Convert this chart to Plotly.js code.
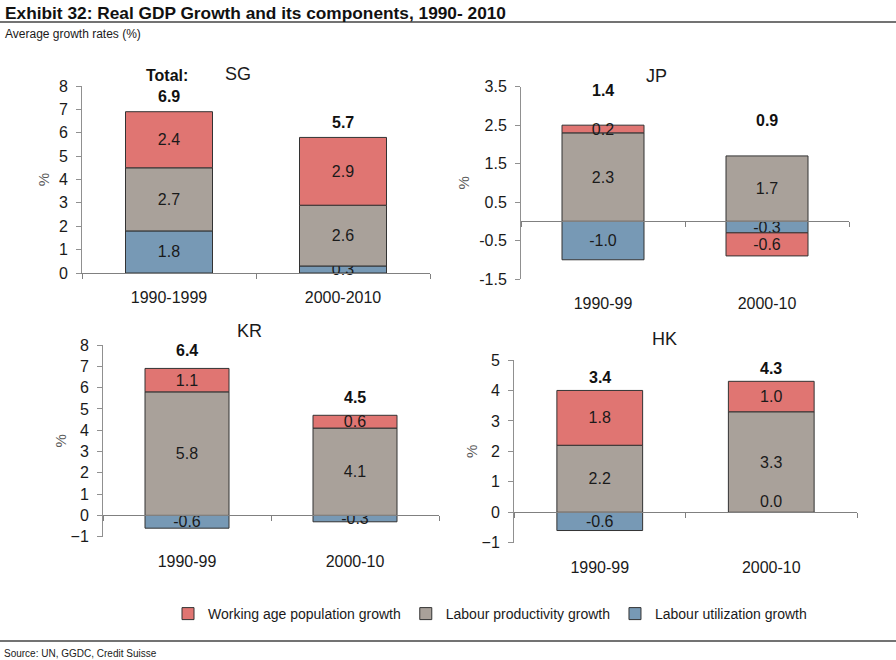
<!DOCTYPE html>
<html><head><meta charset="utf-8">
<script src="https://cdn.plot.ly/plotly-3.0.1.min.js"></script>
<style>body{margin:0;background:#fff}#chart{width:896px;height:660px}</style>
</head><body><div id="chart"></div>
<script>
// ---- data ----
const seriesNames = ['Labour utilization growth', 'Labour productivity growth', 'Working age population growth'];
const panelNames = ['SG', 'JP', 'KR', 'HK'];
const catsSG = ['1990-1999', '2000-2010'];
const catsOther = ['1990-99', '2000-10'];

const utilSG = [1.8, 0.3];
const prodSG = [2.7, 2.6];
const popSG = [2.4, 2.9];
const totalSG = [6.9, 5.7];

const utilJP = [-1.0, -0.3];
const prodJP = [2.3, 1.7];
const popJP = [0.2, -0.6];
const totalJP = [1.4, 0.9];

const utilKR = [-0.6, -0.3];
const prodKR = [5.8, 4.1];
const popKR = [1.1, 0.6];
const totalKR = [6.4, 4.5];

const utilHK = [-0.6, 0.0];
const prodHK = [2.2, 3.3];
const popHK = [1.8, 1.0];
const totalHK = [3.4, 4.3];

// ---- styling ----
const colors = ['#7799B5', '#A9A19A', '#E07572'];
const ranks = [3, 2, 1];
const W = 896, H = 660;
const FONT = 'Liberation Sans, Arial, sans-serif';

const panels = [
  {name: 'SG', cats: catsSG, series: [utilSG, prodSG, popSG], totals: totalSG,
   xa: 'x', ya: 'y', px: [82, 430], py: [86, 273], range: [0, 8], totShift: 15,
   title: [238, 74], standoff: 5},
  {name: 'JP', cats: catsOther, series: [utilJP, prodJP, popJP], totals: totalJP,
   xa: 'x2', ya: 'y2', px: [521, 849], py: [86.7, 279], range: [-1.5, 3.5], totShift: 35,
   title: [656, 76], tickvals: [-1.5, -0.5, 0.5, 1.5, 2.5, 3.5], standoff: 5},
  {name: 'KR', cats: catsOther, series: [utilKR, prodKR, popKR], totals: totalKR,
   xa: 'x3', ya: 'y3', px: [103, 439], py: [345, 536.7], range: [-1, 8], totShift: 18,
   title: [249, 331], standoff: 0},
  {name: 'HK', cats: catsOther, series: [utilHK, prodHK, popHK], totals: totalHK,
   xa: 'x4', ya: 'y4', px: [514, 857], py: [360, 542.7], range: [-1, 5], totShift: 13,
   title: [664, 339], standoff: 0}
];

const traces = [];
const layout = {
  width: W, height: H,
  margin: {l: 0, r: 0, t: 0, b: 0},
  paper_bgcolor: '#fff', plot_bgcolor: 'rgba(0,0,0,0)',
  font: {family: FONT, color: '#1a1a1a'},
  barmode: 'relative',
  bargap: 0.5,
  showlegend: true,
  legend: {orientation: 'h', x: 168 / W, xanchor: 'left', y: (H - 614) / H, yanchor: 'middle',
           font: {size: 14, family: FONT, color: '#1a1a1a'},
           itemwidth: 30, tracegroupgap: 0, bgcolor: 'rgba(0,0,0,0)'},
  annotations: [],
  shapes: []
};

panels.forEach((p, i) => {
  const n = i === 0 ? '' : String(i + 1);
  const xd = [p.px[0] / W, p.px[1] / W];
  const yd = [(H - p.py[1]) / H, (H - p.py[0]) / H];
  p.series.forEach((vals, s) => {
    traces.push({
      type: 'bar', x: p.cats, y: vals, xaxis: p.xa, yaxis: p.ya,
      name: seriesNames[s], legendrank: ranks[s], showlegend: i === 0,
      marker: {color: colors[s], line: {color: '#333', width: 1}},
      text: vals.map(v => v.toFixed(1)), textposition: 'inside', insidetextanchor: 'middle',
      textangle: 0, constraintext: 'none',
      textfont: {size: 16, color: '#1a1a1a', family: FONT},
      hoverinfo: 'skip', cliponaxis: false
    });
    // zero-height segments still carry a label in the reference
    vals.forEach((v, k) => {
      if (v === 0) {
        layout.annotations.push({xref: p.xa, yref: p.ya, x: p.cats[k], y: 0, yshift: 11,
          yanchor: 'middle', text: v.toFixed(1), showarrow: false,
          font: {size: 16, color: '#1a1a1a'}});
      }
    });
  });
  const baseX = {
    domain: xd, anchor: p.ya, type: 'category', range: [-0.5, 1.5],
    showgrid: false, zeroline: false, fixedrange: true,
    tickfont: {size: 16, color: '#1a1a1a'}
  };
  if (i === 0) {
    Object.assign(baseX, {showline: true, linecolor: '#808080', linewidth: 1,
      ticks: 'outside', ticklen: 5, tickcolor: '#808080', tickson: 'boundaries', ticklabelstandoff: 10});
  } else {
    Object.assign(baseX, {showline: false, ticks: '', ticklabelstandoff: 13});
  }
  layout['xaxis' + n] = baseX;
  const ya = {
    domain: yd, anchor: p.xa, range: p.range, showgrid: false, zeroline: false,
    showline: true, linecolor: '#909090', linewidth: 1,
    ticks: 'outside', ticklen: 5, tickcolor: '#909090', ticklabelstandoff: 5,
    tickfont: {size: 16, color: '#1a1a1a'}, fixedrange: true,
    title: {text: '%', font: {size: 15, color: '#595959'}, standoff: p.standoff}
  };
  if (p.tickvals) { ya.tickmode = 'array'; ya.tickvals = p.tickvals; ya.ticktext = p.tickvals.map(v => v.toFixed(1)); }
  else { ya.dtick = 1; }
  layout['yaxis' + n] = ya;

  // zero axis line with category boundary ticks (for panels with negative range)
  if (i > 0) {
    const zid = String(4 + i);
    const pos = yd[0] + (0 - p.range[0]) / (p.range[1] - p.range[0]) * (yd[1] - yd[0]);
    layout['xaxis' + zid] = {
      overlaying: p.xa, anchor: 'free', position: pos, range: [-0.5, 1.5],
      tickmode: 'array', tickvals: [-0.5, 0.5, 1.5], ticks: 'outside', ticklen: 5, tickcolor: '#808080',
      showticklabels: false, showline: true, linecolor: '#808080', linewidth: 1,
      showgrid: false, zeroline: false, fixedrange: true
    };
    traces.push({type: 'scatter', x: [null], y: [null], xaxis: 'x' + zid, yaxis: p.ya,
                 showlegend: false, hoverinfo: 'skip'});
  }

  // totals
  p.cats.forEach((c, k) => {
    const top = p.series.reduce((acc, v) => acc + (v[k] > 0 ? v[k] : 0), 0);
    layout.annotations.push({
      xref: p.xa, yref: p.ya, x: c, y: top, yshift: p.totShift, yanchor: 'middle',
      text: '<b>' + p.totals[k].toFixed(1) + '</b>', showarrow: false,
      font: {size: 16, color: '#111'}
    });
  });
  // panel title
  layout.annotations.push({
    xref: 'paper', yref: 'paper', x: p.title[0] / W, y: (H - p.title[1]) / H,
    xanchor: 'center', yanchor: 'middle', text: p.name, showarrow: false,
    font: {size: 18, color: '#1a1a1a'}
  });
});

layout.annotations.push(
  {xref: 'paper', yref: 'paper', x: 167 / W, y: (H - 75) / H, xanchor: 'center', yanchor: 'middle',
   text: '<b>Total:</b>', showarrow: false, font: {size: 16, color: '#111'}},
  {xref: 'paper', yref: 'paper', x: 3 / W, y: (H - 13) / H, xanchor: 'left', yanchor: 'middle',
   text: '<b>Exhibit 32: Real GDP Growth and its components, 1990- 2010</b>', showarrow: false,
   font: {size: 17.3, color: '#111'}},
  {xref: 'paper', yref: 'paper', x: 3 / W, y: (H - 34) / H, xanchor: 'left', yanchor: 'middle',
   text: 'Average growth rates (%)', showarrow: false, font: {size: 12, color: '#1a1a1a'}},
  {xref: 'paper', yref: 'paper', x: 2 / W, y: (H - 653) / H, xanchor: 'left', yanchor: 'middle',
   text: 'Source: UN, GGDC, Credit Suisse', showarrow: false, font: {size: 10, color: '#1a1a1a'}}
);
layout.shapes.push(
  {type: 'line', xref: 'paper', yref: 'paper', x0: 0, x1: 1, y0: (H - 22) / H, y1: (H - 22) / H,
   line: {color: '#444', width: 1.5}},
  {type: 'line', xref: 'paper', yref: 'paper', x0: 0, x1: 1, y0: (H - 641) / H, y1: (H - 641) / H,
   line: {color: '#444', width: 1.5}}
);

Plotly.newPlot('chart', traces, layout, {displayModeBar: false, staticPlot: true});
</script>
</body></html>
